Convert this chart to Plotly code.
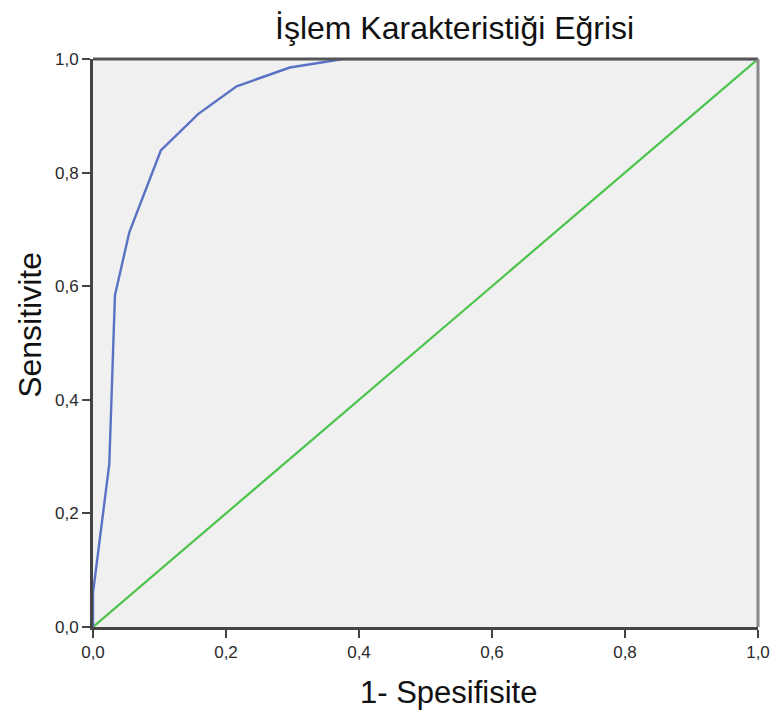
import plotly.graph_objects as go

# ROC curve points (1 - specificity, sensitivity)
fpr = [0.0, 0.0, 0.0245, 0.033, 0.0546, 0.102, 0.158, 0.216, 0.296, 0.376, 1.0]
tpr = [0.0, 0.06, 0.287, 0.584, 0.695, 0.839, 0.903, 0.952, 0.985, 1.0, 1.0]
ref_x = [0.0, 1.0]
ref_y = [0.0, 1.0]

tick_vals = [0.0, 0.2, 0.4, 0.6, 0.8, 1.0]
tick_text = ["0,0", "0,2", "0,4", "0,6", "0,8", "1,0"]

title_text = "İşlem Karakteristiği Eğrisi"
x_title = "1- Spesifisite"
y_title = "Sensitivite"

fig = go.Figure()
fig.add_trace(go.Scatter(x=ref_x, y=ref_y, mode="lines",
                         line=dict(color="#4cc44c", width=2.2), showlegend=False))
fig.add_trace(go.Scatter(x=fpr, y=tpr, mode="lines",
                         line=dict(color="#5a72c4", width=2.4), showlegend=False))

axis_common = dict(
    range=[0, 1], tickvals=tick_vals, ticktext=tick_text,
    ticks="outside", ticklen=8, tickwidth=2, tickcolor="#444444",
    showline=True, linecolor="#444444", linewidth=3,
    showgrid=False, zeroline=False, mirror=False,
    tickfont=dict(family="Liberation Sans, Arial", size=17, color="#2a2a2a"),
    fixedrange=True, automargin=False,
)

fig.update_layout(
    width=772, height=713,
    margin=dict(l=93, r=14, t=59, b=86),
    paper_bgcolor="white", plot_bgcolor="#f0f0f0",
    xaxis=dict(**axis_common),
    yaxis=dict(**axis_common),
    shapes=[
        dict(type="line", xref="paper", yref="paper", x0=0, x1=1, y0=1, y1=1,
             line=dict(color="#555555", width=3)),
        dict(type="line", xref="paper", yref="paper", x0=1, x1=1, y0=0, y1=1,
             line=dict(color="#888888", width=3)),
    ],
    annotations=[
        dict(text=title_text, xref="paper", yref="paper", x=0.544, y=1.0,
             yshift=31, showarrow=False, xanchor="center", yanchor="middle",
             font=dict(family="Liberation Sans, Arial", size=32, color="#111111")),
        dict(text=x_title, xref="paper", yref="paper", x=0.534, y=0,
             yshift=-65, showarrow=False, xanchor="center", yanchor="middle",
             font=dict(family="Liberation Sans, Arial", size=31, color="#111111")),
        dict(text=y_title, xref="paper", yref="paper", x=0, y=0.532,
             xshift=-63, showarrow=False, xanchor="center", yanchor="middle",
             textangle=-90,
             font=dict(family="Liberation Sans, Arial", size=32, color="#111111")),
    ],
)

fig.write_html("out.html", config={"displayModeBar": False},
               post_script="document.body.style.margin='0px';document.body.style.overflow='hidden';")
